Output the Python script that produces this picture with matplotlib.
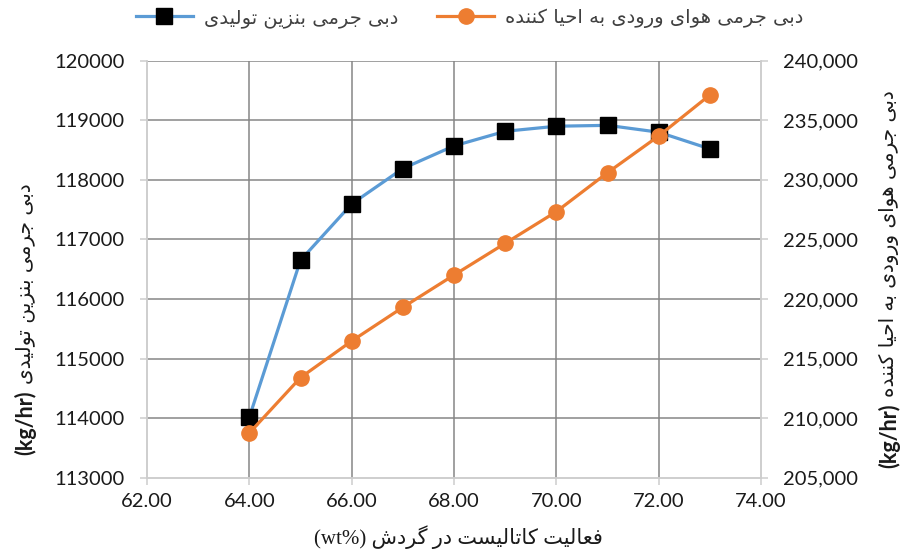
import matplotlib
matplotlib.use("Agg")
import matplotlib.pyplot as plt
from matplotlib.lines import Line2D
from matplotlib.ticker import FuncFormatter

# ---- data -------------------------------------------------------------
activity = [64, 65, 66, 67, 68, 69, 70, 71, 72, 73]
gasoline_flow = [114015, 116650, 117595, 118190, 118570, 118815, 118900, 118915, 118800, 118520]
air_flow = [208750, 213400, 216470, 219300, 222010, 224670, 227330, 230600, 233680, 237120]

label_gasoline = "دبی جرمی بنزین تولیدی"
label_air = "دبی جرمی هوای ورودی به احیا کننده"
label_x = "فعالیت کاتالیست در گردش"
unit_flow = "(kg/hr)"
unit_x = "(wt%)"

x_ticks = [62, 64, 66, 68, 70, 72, 74]
left_ticks = [113000, 114000, 115000, 116000, 117000, 118000, 119000, 120000]
right_ticks = [205000, 210000, 215000, 220000, 225000, 230000, 235000, 240000]

# ---- minimal Persian shaping (contextual forms + visual order) -----------
FORMS = {
    "\u0627": ("\uFE8D", "\uFE8E", None, None),
    "\u0628": ("\uFE8F", "\uFE90", "\uFE91", "\uFE92"),
    "\u062A": ("\uFE95", "\uFE96", "\uFE97", "\uFE98"),
    "\u062C": ("\uFE9D", "\uFE9E", "\uFE9F", "\uFEA0"),
    "\u062D": ("\uFEA1", "\uFEA2", "\uFEA3", "\uFEA4"),
    "\u062F": ("\uFEA9", "\uFEAA", None, None),
    "\u0631": ("\uFEAD", "\uFEAE", None, None),
    "\u0632": ("\uFEAF", "\uFEB0", None, None),
    "\u0633": ("\uFEB1", "\uFEB2", "\uFEB3", "\uFEB4"),
    "\u0634": ("\uFEB5", "\uFEB6", "\uFEB7", "\uFEB8"),
    "\u0639": ("\uFEC9", "\uFECA", "\uFECB", "\uFECC"),
    "\u0641": ("\uFED1", "\uFED2", "\uFED3", "\uFED4"),
    "\u0644": ("\uFEDD", "\uFEDE", "\uFEDF", "\uFEE0"),
    "\u0645": ("\uFEE1", "\uFEE2", "\uFEE3", "\uFEE4"),
    "\u0646": ("\uFEE5", "\uFEE6", "\uFEE7", "\uFEE8"),
    "\u0647": ("\uFEE9", "\uFEEA", "\uFEEB", "\uFEEC"),
    "\u0648": ("\uFEED", "\uFEEE", None, None),
    "\u06CC": ("\uFBFC", "\uFBFD", "\uFBFE", "\uFBFF"),
    "\u06A9": ("\uFB8E", "\uFB8F", "\uFB90", "\uFB91"),
    "\u06AF": ("\uFB92", "\uFB93", "\uFB94", "\uFB95"),
}


def shape(text):
    out = []
    for i, ch in enumerate(text):
        if ch not in FORMS:
            out.append(ch)
            continue
        prev = text[i - 1] if i > 0 else None
        nxt = text[i + 1] if i + 1 < len(text) else None
        iso, fin, ini, med = FORMS[ch]
        join_prev = prev in FORMS and FORMS[prev][2] is not None
        join_next = nxt in FORMS and ini is not None
        if join_prev and join_next:
            out.append(med)
        elif join_prev:
            out.append(fin)
        elif join_next:
            out.append(ini)
        else:
            out.append(iso)
    return "".join(out)


def rtl(text):
    return shape(text)[::-1]


# ---- figure -----------------------------------------------------------
W, H = 904, 551
fig = plt.figure(figsize=(W / 100, H / 100), dpi=100)
ax = fig.add_axes([147 / W, 1 - 477.7 / H, (761 - 147) / W, (477.7 - 60.7) / H])
ax2 = ax.twinx()

BLUE = "#5B9BD5"
ORANGE = "#ED7D31"
GRID = "#868686"
AXIS = "#CDCDCD"
TXT = "#1a1a1a"

ax.set_xlim(62, 74)
ax.set_ylim(113000, 120000)
ax2.set_ylim(205000, 240000)
ax.set_xticks(x_ticks)
ax.set_yticks(left_ticks)
ax2.set_yticks(right_ticks)
ax.xaxis.set_major_formatter(FuncFormatter(lambda v, p: f"{v:.2f}"))
ax.yaxis.set_major_formatter(FuncFormatter(lambda v, p: f"{v:.0f}"))
ax2.yaxis.set_major_formatter(FuncFormatter(lambda v, p: f"{v:,.0f}"))

ax.grid(True, color=GRID, lw=1.1)
ax.set_axisbelow(True)
for gl, t in zip(ax.get_xgridlines(), x_ticks):
    if t in (62, 74):
        gl.set_visible(False)
for gl, t in zip(ax.get_ygridlines(), left_ticks):
    if t == 113000:
        gl.set_visible(False)

for a in (ax, ax2):
    for s in a.spines.values():
        s.set_color(AXIS)
        s.set_linewidth(1.1)
    a.spines["top"].set_visible(False)
    a.tick_params(length=5, width=1.1, color=AXIS, pad=11, labelcolor=TXT)
    for lab in a.get_xticklabels() + a.get_yticklabels():
        lab.set_fontfamily("Lato")
        lab.set_fontsize(14.5)
ax.tick_params(axis="x", pad=6)

# series
ax.plot(activity, gasoline_flow, color=BLUE, lw=2.3, zorder=3, solid_joinstyle="round")
ax.plot(activity, gasoline_flow, ls="none", marker="s", ms=11.5, color="black", zorder=4)
ax2.plot(activity, air_flow, color=ORANGE, lw=2.3, marker="o", ms=11, zorder=3,
         solid_capstyle="round")

# axis titles
fig.text(458 / W, 1 - 537 / H, unit_x + " " + rtl(label_x), ha="center", va="center",
         family=["Liberation Serif", "DejaVu Sans"], fontsize=15, color=TXT)

kg_left = fig.text(25 / W, 1 - 455 / H, unit_flow, rotation=90, ha="center", va="bottom",
                   family="Lato", fontweight="bold", fontsize=15.5, color=TXT)
ax.annotate(rtl(label_gasoline), xy=(0.5, 1.0), xycoords=kg_left, xytext=(0, 5),
            textcoords="offset points", rotation=90, ha="center", va="bottom",
            family="DejaVu Sans", fontsize=14.5, color=TXT, annotation_clip=False)

kg_right = fig.text(889 / W, 1 - 468 / H, unit_flow, rotation=90, ha="center", va="bottom",
                    family="Lato", fontweight="bold", fontsize=15.5, color=TXT)
ax.annotate(rtl(label_air), xy=(0.5, 1.0), xycoords=kg_right, xytext=(0, 5),
            textcoords="offset points", rotation=90, ha="center", va="bottom",
            family="DejaVu Sans", fontsize=14.5, color=TXT, annotation_clip=False)

# legend
handles = [
    Line2D([], [], color=BLUE, lw=2.3, marker="s", ms=11, mfc="black", mec="black"),
    Line2D([], [], color=ORANGE, lw=2.3, marker="o", ms=11, mfc=ORANGE, mec=ORANGE),
]
fig.legend(handles, [rtl(label_gasoline), rtl(label_air)], loc="center",
           bbox_to_anchor=(470 / W, 1 - 18 / H), ncol=2, frameon=False,
           prop=dict(family="DejaVu Sans", size=14), labelcolor="#404040",
           handlelength=2.9, handletextpad=0.6, columnspacing=2.0)

fig.savefig("out.png", dpi=100)
